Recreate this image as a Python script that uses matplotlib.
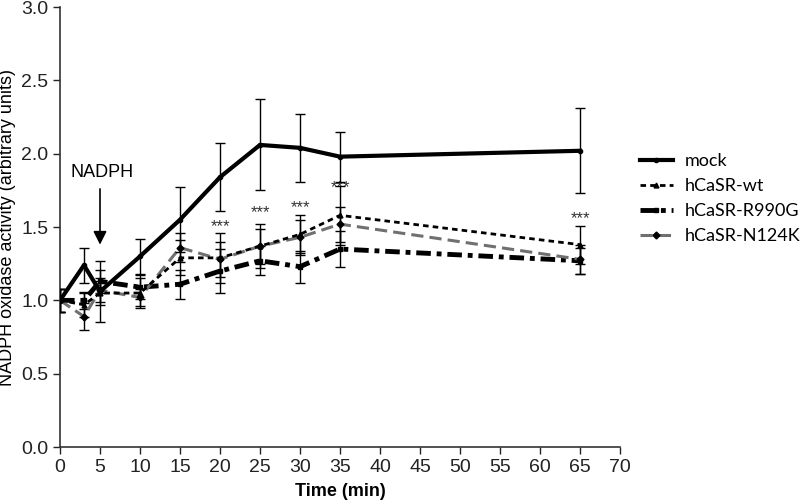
import numpy as np
import matplotlib
matplotlib.use("Agg")
import matplotlib.pyplot as plt

# data
time = [0, 3, 5, 10, 15, 20, 25, 30, 35, 65]

mock = [1.00, 1.24, 1.06, 1.30, 1.55, 1.84, 2.06, 2.04, 1.98, 2.02]
mock_err = [0.08, 0.12, 0.21, 0.12, 0.22, 0.23, 0.31, 0.23, 0.17, 0.29]

wt = [1.00, 0.97, 1.05, 1.05, 1.29, 1.29, 1.37, 1.45, 1.58, 1.38]
wt_err = [0.08, 0.08, 0.08, 0.10, 0.12, 0.17, 0.15, 0.13, 0.20, 0.13]

r990g = [1.00, 1.00, 1.13, 1.09, 1.11, 1.20, 1.27, 1.23, 1.35, 1.27]
r990g_err = [0.08, 0.06, 0.08, 0.08, 0.10, 0.15, 0.10, 0.11, 0.12, 0.09]

n124k = [1.00, 0.89, 1.07, 1.02, 1.36, 1.28, 1.37, 1.43, 1.52, 1.28]
n124k_err = [0.08, 0.09, 0.08, 0.06, 0.10, 0.12, 0.12, 0.12, 0.12, 0.10]

star_x = [20, 25, 30, 35, 65]
star_y = [1.50, 1.60, 1.63, 1.77, 1.56]

labels = ["mock", "hCaSR-wt", "hCaSR-R990G", "hCaSR-N124K"]

plt.rcParams['font.family'] = ['Liberation Sans', 'DejaVu Sans']
fig = plt.figure(figsize=(8, 5.04), dpi=100)
ax = fig.add_axes([0.075, 0.113, 0.70, 0.873])

eb = dict(ecolor='k', elinewidth=1, capsize=3.5, capthick=1)
ax.errorbar(time, mock, yerr=mock_err, color='k', lw=3, ls='-',
            marker='o', ms=3, label=labels[0], zorder=5, **eb)
ax.errorbar(time, wt, yerr=wt_err, color='k', lw=2, ls=(0, (2, 1.5)),
            marker='^', ms=3.5, label=labels[1], zorder=4, **eb)
ax.errorbar(time, r990g, yerr=r990g_err, color='k', lw=3.5, ls=(0, (3, 1.2, 1, 1.2)),
            marker='s', ms=3.5, label=labels[2], zorder=3, **eb)
ax.errorbar(time, n124k, yerr=n124k_err, color='#707070', lw=2.2, ls=(0, (4, 2)),
            marker='D', ms=3.5, mfc='k', mec='k', label=labels[3], zorder=3, **eb)

for sx, sy in zip(star_x, star_y):
    ax.text(sx, sy, "***", ha='center', va='center', fontsize=12, color='#333333')

# NADPH addition marker
ax.text(5.3, 1.87, "NADPH", ha='center', va='center', fontsize=13)
ax.annotate("", xy=(5, 1.38), xytext=(5, 1.76),
            arrowprops=dict(arrowstyle='-|>', color='k', lw=1.2,
                            mutation_scale=20, shrinkA=0, shrinkB=0))

ax.set_xlim(0, 70)
ax.set_ylim(0, 3.0)
ax.set_xticks(np.arange(0, 71, 5))
ax.set_yticks(np.arange(0, 3.01, 0.5))
ax.set_yticklabels(["%.1f" % v for v in np.arange(0, 3.01, 0.5)])
ax.tick_params(labelsize=14, length=5, width=1, colors='#222222')
for s in ['top', 'right']:
    ax.spines[s].set_visible(False)
for s in ['left', 'bottom']:
    ax.spines[s].set_linewidth(1.2)
    ax.spines[s].set_color('#333333')

ax.set_xlabel("Time (min)", fontsize=13, fontweight='bold', labelpad=5)
ax.set_ylabel("NADPH oxidase activity (arbitrary units)", fontsize=13, labelpad=4)

handles, labs = ax.get_legend_handles_labels()
handles = [h[0] for h in handles]
leg = fig.legend(handles, labs, loc='upper left', bbox_to_anchor=(0.80, 0.696),
                 frameon=False, handlelength=1.8, handletextpad=0.7,
                 labelspacing=0.5, borderaxespad=0, borderpad=0,
                 prop={'family': ['Lato', 'DejaVu Sans'], 'size': 13})

fig.savefig("out.png", dpi=100)
